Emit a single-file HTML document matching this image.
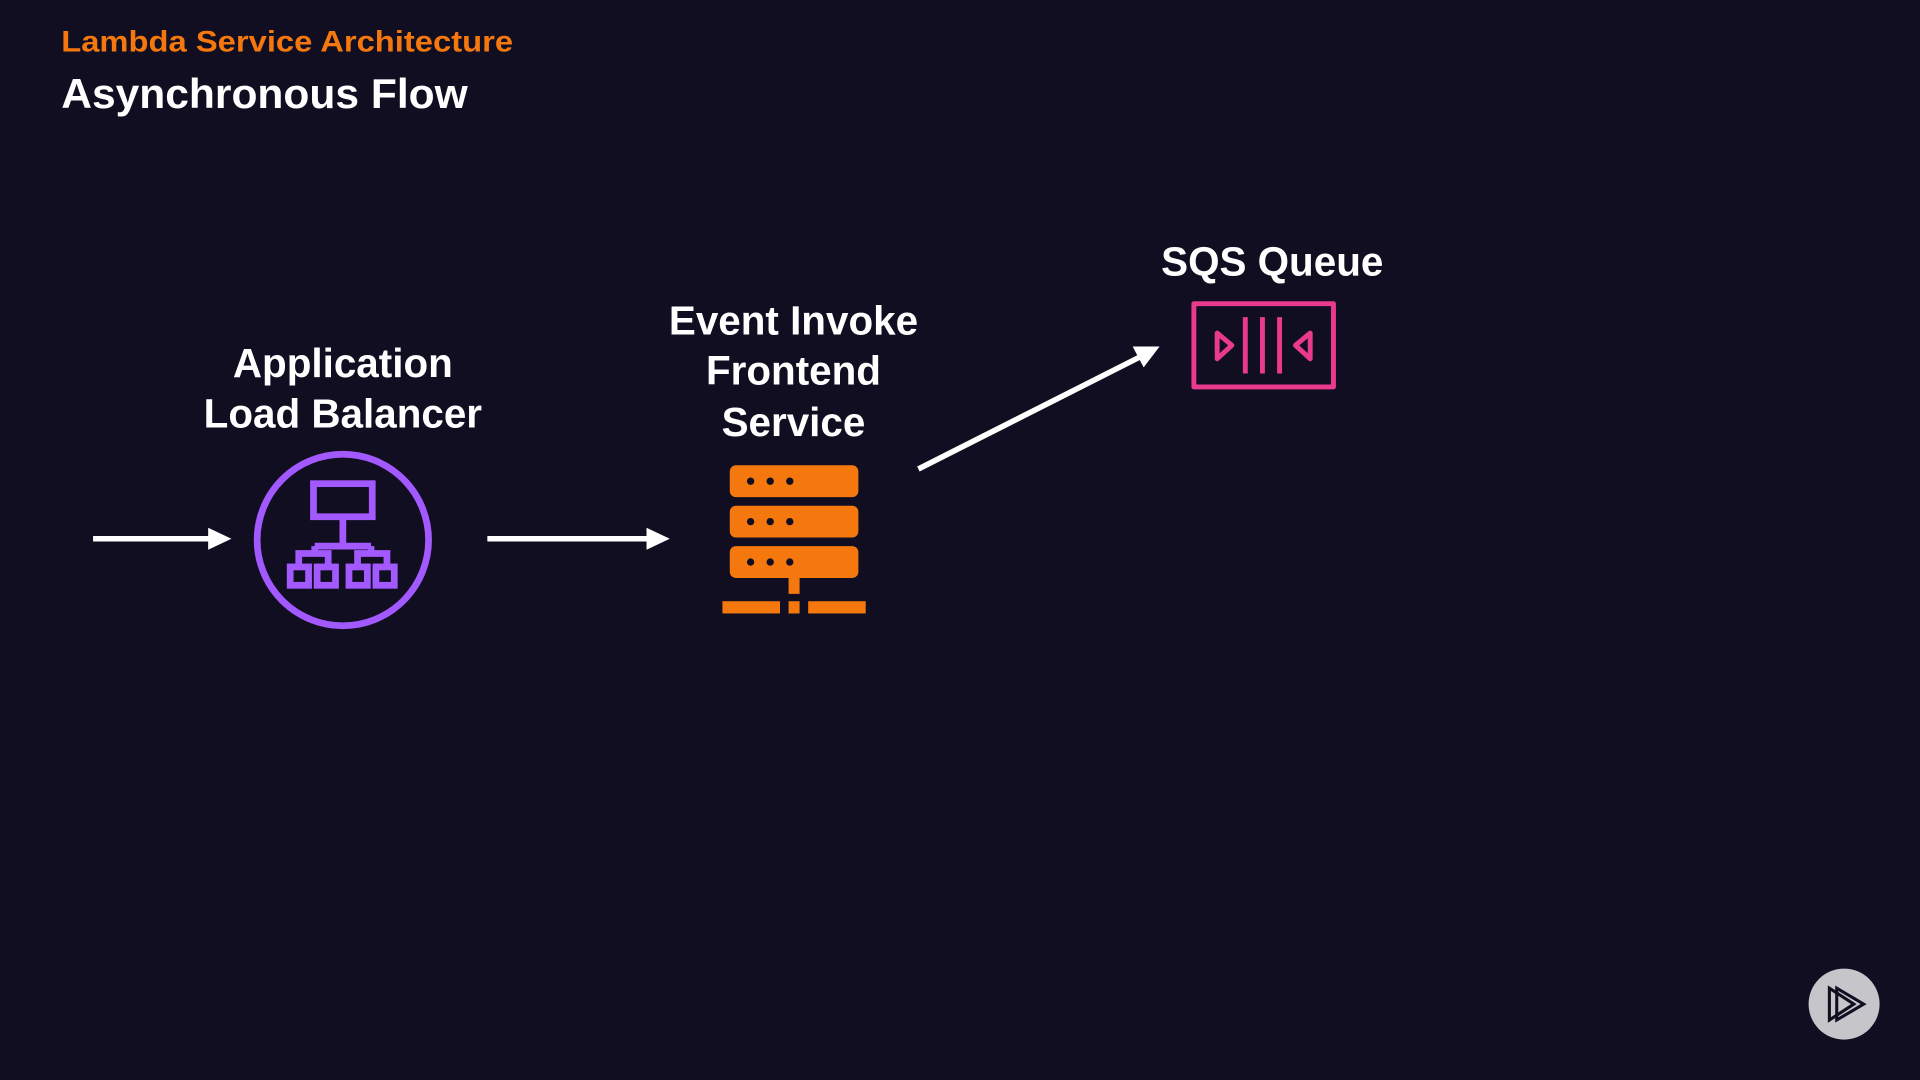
<!DOCTYPE html>
<html><head><meta charset="utf-8"><style>
html,body{margin:0;padding:0;background:#120e21;}
svg{display:block}
text{font-family:"Liberation Sans",sans-serif;font-weight:bold;}
</style></head><body>
<svg width="1920" height="1080" viewBox="0 0 1568 882" xmlns="http://www.w3.org/2000/svg">
<rect width="1568" height="882" fill="#120e21"/>
<text x="50" y="42" font-size="24" fill="#f5780f" textLength="369" lengthAdjust="spacingAndGlyphs">Lambda Service Architecture</text>
<text x="50" y="88" font-size="34" fill="#fff" textLength="332" lengthAdjust="spacingAndGlyphs">Asynchronous Flow</text>

<g fill="#fff" font-size="33" text-anchor="middle">
<text x="280" y="308">Application</text>
<text x="280" y="349">Load Balancer</text>
<text x="648" y="273">Event Invoke</text>
<text x="648" y="314">Frontend</text>
<text x="648" y="356">Service</text>
<text x="1039" y="225">SQS Queue</text>
</g>

<g stroke="#fff" stroke-width="4.5" fill="#fff">
<line x1="76" y1="440" x2="172" y2="440"/>
<polygon points="170,431 189,440 170,449" stroke="none"/>
<line x1="398" y1="440" x2="530" y2="440"/>
<polygon points="528,431 547,440 528,449" stroke="none"/>
<line x1="750" y1="383" x2="932" y2="291"/>
<polygon points="947,283 925,283 934,300" stroke="none"/>
</g>

<g stroke="#a259ff" fill="none" stroke-width="5.5">
<circle cx="280" cy="441" r="70"/>
<rect x="256" y="395" width="48" height="27"/>
<line x1="280" y1="422" x2="280" y2="446"/>
<line x1="257" y1="446" x2="303" y2="446"/>
<polyline points="244,463 244,452 268,452 268,463"/>
<polyline points="292,463 292,452 316,452 316,463"/>
<line x1="257" y1="446" x2="257" y2="452"/>
<line x1="303" y1="446" x2="303" y2="452"/>
<rect x="237" y="463" width="15" height="15"/>
<rect x="259" y="463" width="15" height="15"/>
<rect x="285" y="463" width="15" height="15"/>
<rect x="307" y="463" width="15" height="15"/>
</g>

<g fill="#f5780f">
<rect x="596" y="380" width="105" height="26" rx="5"/>
<rect x="596" y="413" width="105" height="26" rx="5"/>
<rect x="596" y="446" width="105" height="26" rx="5"/>
<rect x="644" y="472" width="9" height="13"/>
<rect x="590" y="491" width="47" height="10"/>
<rect x="644" y="491" width="9" height="10"/>
<rect x="660" y="491" width="47" height="10"/>
</g>
<g fill="#120e21">
<circle cx="613" cy="393" r="3"/><circle cx="629" cy="393" r="3"/><circle cx="645" cy="393" r="3"/>
<circle cx="613" cy="426" r="3"/><circle cx="629" cy="426" r="3"/><circle cx="645" cy="426" r="3"/>
<circle cx="613" cy="459" r="3"/><circle cx="629" cy="459" r="3"/><circle cx="645" cy="459" r="3"/>
</g>

<g stroke="#ea3a8d" fill="none" stroke-width="4" stroke-linejoin="round">
<rect x="975" y="248" width="114" height="68"/>
<polygon points="994,272 1006,282 994,293"/>
<polygon points="1070,272 1058,282 1070,293"/>
<line x1="1017" y1="259" x2="1017" y2="305"/>
<line x1="1031" y1="259" x2="1031" y2="305"/>
<line x1="1045" y1="259" x2="1045" y2="305"/>
</g>

<circle cx="1506" cy="820" r="29" fill="#c6c5ca"/>
<g stroke="#120e21" stroke-width="2.5" fill="none">
<polygon points="1494,807 1514,820 1494,833"/>
<polygon points="1500,807 1522,820 1500,833"/>
</g>
</svg>
</body></html>
